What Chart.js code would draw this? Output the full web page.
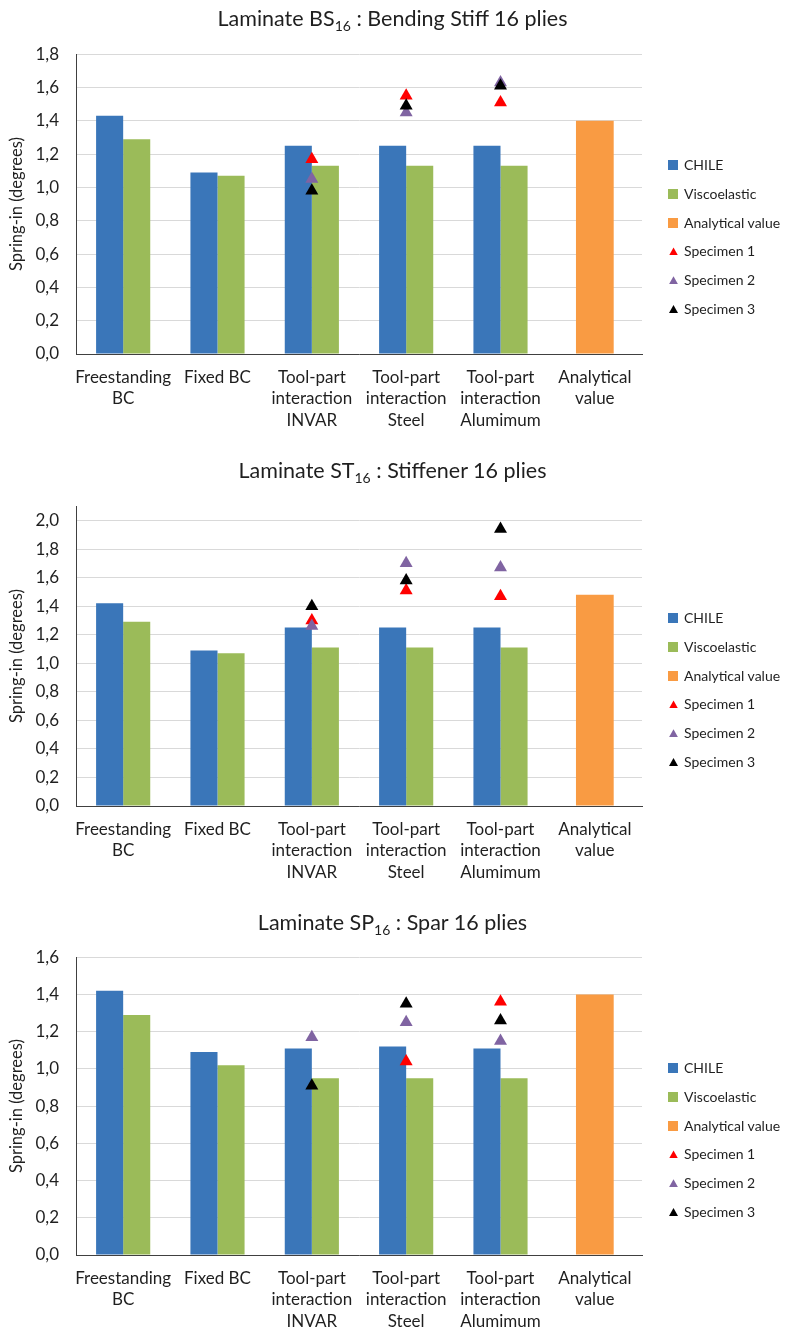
<!DOCTYPE html>
<html>
<head>
<meta charset="utf-8">
<script src="https://cdn.jsdelivr.net/npm/chart.js@4.4.1/dist/chart.umd.min.js"></script>
<style>
  body { margin:0; background:#fff; width:785px; height:1333px; position:relative; overflow:hidden;
         font-family:Lato, "Open Sans", sans-serif; color:#1f1f1f; }
  .ttl { position:absolute; left:0; width:785px; text-align:center; font-size:21.5px; line-height:26px; white-space:nowrap; }
  .ttl sub { font-size:14px; line-height:0; vertical-align:-5px; }
  canvas.cv { position:absolute; left:0; }
  .lg { position:absolute; left:668px; font-size:14px; line-height:18px; white-space:nowrap; }
  .lg .sw { position:absolute; left:0; top:4px; width:10px; height:10px; }
  .lg .tri { position:absolute; left:1px; top:5px; width:9px; height:8px; clip-path:polygon(50% 0, 100% 100%, 0 100%); }
  .lg span.t { position:absolute; left:16px; top:0; }
</style>
</head>
<body>

<canvas class="cv" id="c1" width="785" height="427" style="top:27px"></canvas>
<div class="ttl" style="top:5px">Laminate BS<sub>16</sub> : Bending Stiff 16 plies</div>

<canvas class="cv" id="c2" width="785" height="417" style="top:479px"></canvas>
<div class="ttl" style="top:457px">Laminate ST<sub>16</sub> : Stiffener 16 plies</div>

<canvas class="cv" id="c3" width="785" height="403" style="top:930px"></canvas>
<div class="ttl" style="top:909px">Laminate SP<sub>16</sub> : Spar 16 plies</div>

<div id="legends"></div>

<script>
// Boundary-condition cases shown along the x axis
const categories = [
  ['Freestanding', 'BC'],
  ['Fixed BC'],
  ['Tool-part', 'interaction', 'INVAR'],
  ['Tool-part', 'interaction', 'Steel'],
  ['Tool-part', 'interaction', 'Alumimum'],
  ['Analytical', 'value']
];

// Laminate BS16 : Bending Stiff 16 plies
const bsChile      = [1.43, 1.09, 1.25, 1.25, 1.25, null];
const bsVisco      = [1.29, 1.07, 1.13, 1.13, 1.13, null];
const bsAnalytical = [null, null, null, null, null, 1.40];
const bsSpec1      = [null, null, 1.17, 1.55, 1.51, null];
const bsSpec2      = [null, null, 1.05, 1.45, 1.63, null];
const bsSpec3      = [null, null, 0.98, 1.49, 1.61, null];
const bsTicks      = [0, 0.2, 0.4, 0.6, 0.8, 1.0, 1.2, 1.4, 1.6, 1.8];
const bsMax        = 1.8;

// Laminate ST16 : Stiffener 16 plies
const stChile      = [1.42, 1.09, 1.25, 1.25, 1.25, null];
const stVisco      = [1.29, 1.07, 1.11, 1.11, 1.11, null];
const stAnalytical = [null, null, null, null, null, 1.48];
const stSpec1      = [null, null, 1.30, 1.51, 1.47, null];
const stSpec2      = [null, null, 1.26, 1.70, 1.67, null];
const stSpec3      = [null, null, 1.40, 1.58, 1.94, null];
const stTicks      = [0, 0.2, 0.4, 0.6, 0.8, 1.0, 1.2, 1.4, 1.6, 1.8, 2.0];
const stMax        = 2.1;

// Laminate SP16 : Spar 16 plies
const spChile      = [1.42, 1.09, 1.11, 1.12, 1.11, null];
const spVisco      = [1.29, 1.02, 0.95, 0.95, 0.95, null];
const spAnalytical = [null, null, null, null, null, 1.40];
const spSpec1      = [null, null, null, 1.04, 1.36, null];
const spSpec2      = [null, null, 1.17, 1.25, 1.15, null];
const spSpec3      = [null, null, 0.91, 1.35, 1.26, null];
const spTicks      = [0, 0.2, 0.4, 0.6, 0.8, 1.0, 1.2, 1.4, 1.6];
const spMax        = 1.6;

const seriesNames = ['CHILE', 'Viscoelastic', 'Analytical value', 'Specimen 1', 'Specimen 2', 'Specimen 3'];

const BLUE = '#3a76b9', GREEN = '#9bbb59', ORANGE = '#f99b43';
const RED = '#ff0000', PURPLE = '#8064a2', BLACK = '#000000';
const AXIS = '#404040', GRID = '#d9d9d9', TEXT = '#1f1f1f';
const FONT = 'Lato, "Open Sans", sans-serif';

function specimen(label, data, color, order) {
  return {
    type: 'line', label, data, order,
    showLine: false, pointStyle: 'triangle', pointRadius: 7.5, pointHoverRadius: 7.5,
    backgroundColor: color, borderColor: color, borderWidth: 0
  };
}

function drawPanel(id, s) {
  return new Chart(document.getElementById(id), {
    data: {
      labels: categories,
      datasets: [
        { type: 'bar', label: seriesNames[0], data: s.chile, backgroundColor: BLUE,
          categoryPercentage: 0.574, barPercentage: 1, order: 10 },
        { type: 'bar', label: seriesNames[1], data: s.visco, backgroundColor: GREEN,
          categoryPercentage: 0.574, barPercentage: 1, order: 11 },
        { type: 'bar', label: seriesNames[2], data: s.analytical, backgroundColor: ORANGE,
          grouped: false, categoryPercentage: 0.4, barPercentage: 1, order: 12 },
        specimen(seriesNames[3], s.s1, RED, 3),
        specimen(seriesNames[4], s.s2, PURPLE, 2),
        specimen(seriesNames[5], s.s3, BLACK, 1)
      ]
    },
    options: {
      responsive: false,
      animation: false,
      events: [],
      layout: { padding: { top: 0, right: 143, left: 0, bottom: 0 } },
      plugins: { legend: { display: false }, tooltip: { enabled: false }, title: { display: false } },
      scales: {
        x: {
          type: 'category', offset: true,
          grid: { display: false, drawTicks: false },
          border: { display: true, color: AXIS, width: 1 },
          ticks: { color: TEXT, font: { family: FONT, size: 17, lineHeight: 1.25 },
                   padding: 13, maxRotation: 0, autoSkip: false },
          afterFit(scale) { scale.height = s.xHeight; }
        },
        y: {
          min: 0, max: s.max,
          afterBuildTicks(scale) { scale.ticks = s.ticks.map(v => ({ value: v })); },
          grid: { color: GRID, lineWidth: 1, drawTicks: false },
          border: { display: true, color: AXIS, width: 1 },
          ticks: { color: TEXT, font: { family: FONT, size: 17 }, padding: 17,
                   callback: v => Number(v).toFixed(1).replace('.', ',') },
          title: { display: true, text: 'Spring-in (degrees)', color: TEXT,
                   font: { family: FONT, size: 16.5 }, padding: { top: 7, bottom: 0 } },
          afterFit(scale) { scale.width = 76; }
        }
      }
    }
  });
}

drawPanel('c1', { chile: bsChile, visco: bsVisco, analytical: bsAnalytical,
                  s1: bsSpec1, s2: bsSpec2, s3: bsSpec3, ticks: bsTicks, max: bsMax, xHeight: 100 });
drawPanel('c2', { chile: stChile, visco: stVisco, analytical: stAnalytical,
                  s1: stSpec1, s2: stSpec2, s3: stSpec3, ticks: stTicks, max: stMax, xHeight: 90 });
drawPanel('c3', { chile: spChile, visco: spVisco, analytical: spAnalytical,
                  s1: spSpec1, s2: spSpec2, s3: spSpec3, ticks: spTicks, max: spMax, xHeight: 78 });

// Right-hand legends, one per panel
const legendColors = [BLUE, GREEN, ORANGE, RED, PURPLE, BLACK];
const legendTops = [165, 618, 1068];
const host = document.getElementById('legends');
legendTops.forEach(top => {
  seriesNames.forEach((name, i) => {
    const item = document.createElement('div');
    item.className = 'lg';
    item.style.top = (top + i * 28.8 - 9) + 'px';
    const mark = document.createElement('div');
    mark.className = i < 3 ? 'sw' : 'tri';
    mark.style.background = legendColors[i];
    const txt = document.createElement('span');
    txt.className = 't';
    txt.textContent = name;
    item.appendChild(mark);
    item.appendChild(txt);
    host.appendChild(item);
  });
});
</script>
</body>
</html>
